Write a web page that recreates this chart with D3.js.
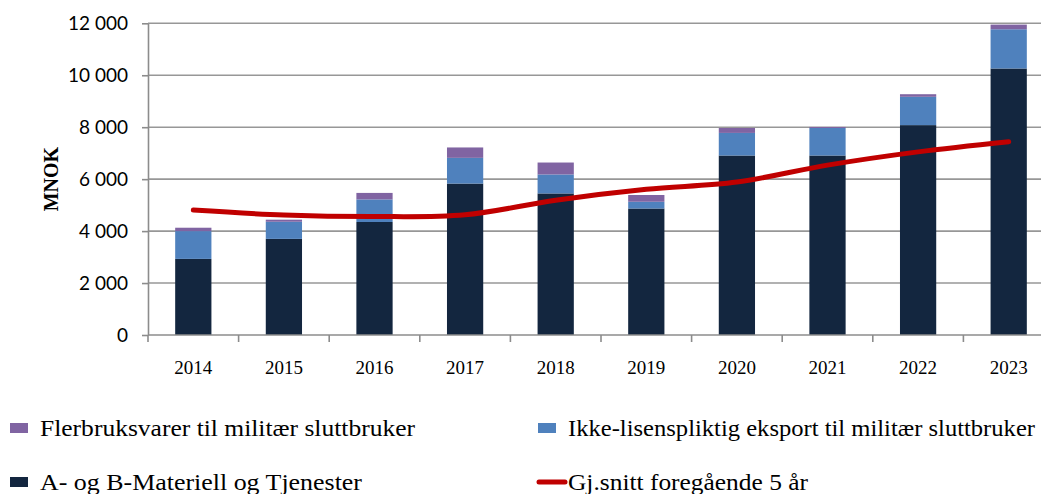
<!DOCTYPE html>
<html>
<head>
<meta charset="utf-8">
<script src="https://d3js.org/d3.v7.min.js"></script>
<style>
body {margin:0; background:white;}
svg {display:block;}
</style>
</head>
<body>
<svg id="chart" width="1041" height="494"></svg>
<script>
// data
var years = ["2014","2015","2016","2017","2018","2019","2020","2021","2022","2023"];
var materiell = [2930, 3700, 4350, 5830, 5450, 4870, 6910, 6910, 8080, 10260];
var ikkeLisens = [1070, 660, 870, 990, 730, 260, 870, 1060, 1090, 1510];
var flerbruk = [130, 80, 250, 400, 460, 260, 190, 40, 100, 180];
var snitt = [4810, 4620, 4560, 4630, 5190, 5610, 5890, 6540, 7050, 7440];
var yTicks = [0, 2000, 4000, 6000, 8000, 10000, 12000];

var seriesNames = ["A- og B-Materiell og Tjenester", "Ikke-lisenspliktig eksport til militær sluttbruker", "Flerbruksvarer til militær sluttbruker"];
var colors = ["#13263f", "#4f81bd", "#8064a2"];

var svg = d3.select("#chart");
var mLeft = 148, mRight = 1054, mTop = 23.3, mBottom = 335;

var x = d3.scaleBand().domain(years).range([mLeft, mRight]).paddingInner(0).paddingOuter(0);
var y = d3.scaleLinear().domain([0, 12000]).range([mBottom, mTop]);

// gridlines
svg.append("g")
  .selectAll("line")
  .data(yTicks.slice(1))
  .enter().append("line")
  .attr("x1", mLeft).attr("x2", mRight)
  .attr("y1", function(d) {return y(d);})
  .attr("y2", function(d) {return y(d);})
  .attr("stroke", "#979797").attr("stroke-width", 1.6);

// stacked bars
var rows = years.map(function(yr, i) {
  return {year: yr, s0: materiell[i], s1: ikkeLisens[i], s2: flerbruk[i]};
});
var stack = d3.stack().keys(["s0", "s1", "s2"])(rows);
var bw = x.bandwidth() * 0.4;

svg.append("g")
  .selectAll("g")
  .data(stack)
  .enter().append("g")
    .attr("fill", function(d, i) {return colors[i];})
  .selectAll("rect")
  .data(function(d) {return d;})
  .enter().append("rect")
    .attr("x", function(d) {return x(d.data.year) + (x.bandwidth() - bw) / 2;})
    .attr("width", bw)
    .attr("y", function(d) {return y(d[1]);})
    .attr("height", function(d) {return y(d[0]) - y(d[1]);});

// axes
var yAxis = d3.axisLeft(y).tickValues(yTicks).tickSize(6).tickSizeOuter(0)
  .tickFormat(function(d) {return d3.format(",")(d).replace(",", " ");});
var gy = svg.append("g").attr("transform", "translate(" + mLeft + ",0)").call(yAxis);
gy.select(".domain").attr("stroke", "#8c8c8c").attr("stroke-width", 1.6);
gy.selectAll(".tick line").attr("stroke", "#8c8c8c").attr("stroke-width", 1.6);
gy.selectAll(".tick text")
  .attr("x", -20)
  .style("font-family", "Lato, 'Open Sans', sans-serif")
  .style("font-size", "19px")
  .attr("fill", "#000");

var gx = svg.append("g").attr("transform", "translate(0," + mBottom + ")");
gx.append("line").attr("x1", mLeft).attr("x2", mRight).attr("stroke", "#8c8c8c").attr("stroke-width", 1.6);
gx.selectAll("line.tk")
  .data(years)
  .enter().append("line")
  .attr("class", "tk")
  .attr("x1", function(d) {return x(d);}).attr("x2", function(d) {return x(d);})
  .attr("y1", 0).attr("y2", 7)
  .attr("stroke", "#8c8c8c").attr("stroke-width", 1.6);
gx.selectAll("text")
  .data(years)
  .enter().append("text")
  .attr("x", function(d) {return x(d) + x.bandwidth() / 2;})
  .attr("y", 39)
  .attr("text-anchor", "middle")
  .style("font-family", "'Liberation Serif', serif")
  .style("font-size", "19px")
  .text(function(d) {return d;});

// average line
var line = d3.line()
  .x(function(d, i) {return x(years[i]) + x.bandwidth() / 2;})
  .y(function(d) {return y(d);})
  .curve(d3.curveCatmullRom);
svg.append("path")
  .datum(snitt)
  .attr("d", line)
  .attr("fill", "none")
  .attr("stroke", "#c00000")
  .attr("stroke-width", 5)
  .attr("stroke-linecap", "round");

// y title
svg.append("text")
  .attr("transform", "translate(58," + ((mTop + mBottom) / 2) + ") rotate(-90)")
  .attr("text-anchor", "middle")
  .style("font-family", "'Liberation Serif', serif")
  .style("font-size", "20px")
  .style("font-weight", "bold")
  .text("MNOK");

// legend
var legendItems = [
  {name: seriesNames[2], color: colors[2], x: 10, y: 428, w: 375, type: "rect"},
  {name: seriesNames[1], color: colors[1], x: 538, y: 428, w: 467, type: "rect"},
  {name: seriesNames[0], color: colors[0], x: 10, y: 482, w: 322, type: "rect"},
  {name: "Gj.snitt foregående 5 år", color: "#c00000", x: 538, y: 482, w: 240, type: "line"}
];
var lg = svg.append("g").selectAll("g").data(legendItems).enter().append("g")
  .attr("transform", function(d) {return "translate(" + d.x + "," + d.y + ")";});
lg.filter(function(d) {return d.type == "rect";})
  .append("rect").attr("x", 0).attr("y", -5).attr("width", 18).attr("height", 10)
  .attr("fill", function(d) {return d.color;});
lg.filter(function(d) {return d.type == "line";})
  .append("line").attr("x1", 1).attr("x2", 27).attr("y1", 0).attr("y2", 0)
  .attr("stroke", function(d) {return d.color;}).attr("stroke-width", 5).attr("stroke-linecap", "round");
lg.append("text")
  .attr("x", 30).attr("y", 8)
  .attr("textLength", function(d) {return d.w;})
  .attr("lengthAdjust", "spacingAndGlyphs")
  .style("font-family", "'Liberation Serif', serif")
  .style("font-size", "23px")
  .text(function(d) {return d.name;});
</script>
</body>
</html>
